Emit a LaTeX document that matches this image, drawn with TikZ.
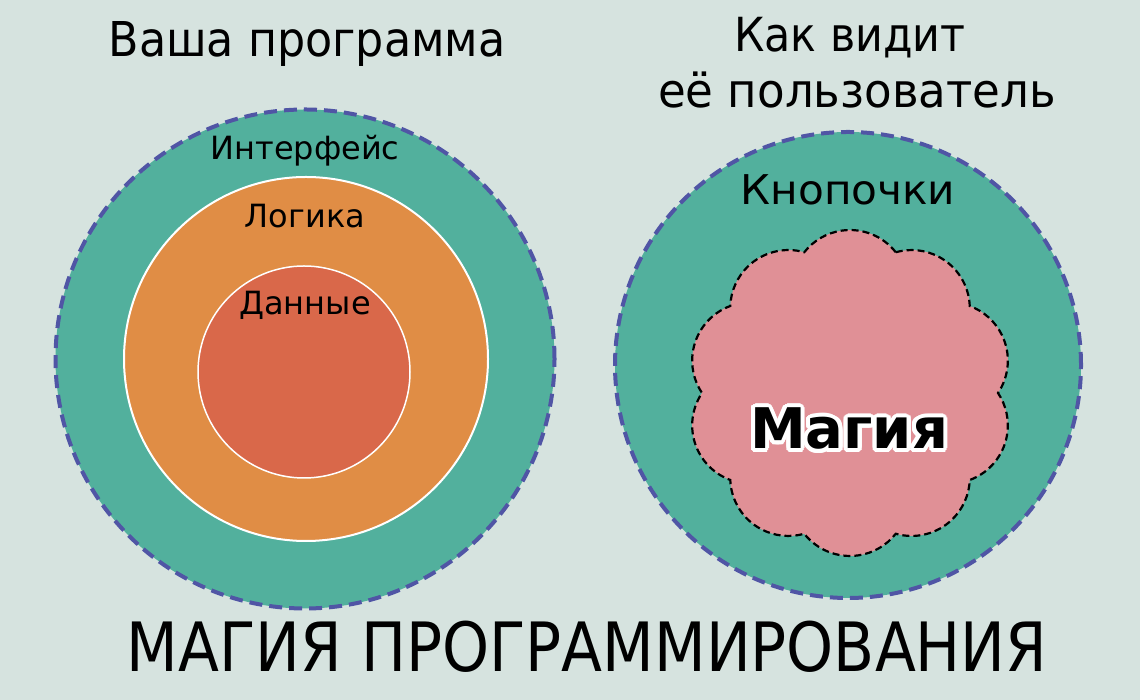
\documentclass[tikz,border=0pt]{standalone}
\usepackage{fontspec}
\setmainfont{DejaVu Sans}
\definecolor{bgc}{RGB}{214,227,223}
\definecolor{grn}{RGB}{82,176,157}
\definecolor{org}{RGB}{224,141,69}
\definecolor{rdc}{RGB}{217,104,74}
\definecolor{pnk}{RGB}{224,144,150}
\definecolor{rim}{RGB}{80,85,165}
\tikzset{
  outer/.style={fill=grn, draw=rim, line width=4pt, dash pattern=on 13pt off 7pt},
  inner/.style={draw=white, line width=2pt},
  lbl/.style={anchor=base, inner sep=0pt, text=black},
}
\begin{document}
\begin{tikzpicture}[x=1pt,y=1pt]
\useasboundingbox (0,0) rectangle (1140,700);
\fill[bgc] (0,0) rectangle (1140,700);
% left
\draw[outer] (305,341) circle[radius=249.5pt];
\filldraw[inner, fill=org] (306,341) circle[radius=182pt];
\filldraw[inner, fill=rdc, line width=1.5pt] (304,328) circle[radius=106pt];
% right
\draw[outer] (848,335) circle[radius=233pt];
\coordinate (F) at (850,307);
\filldraw[fill=pnk, draw=black, line width=2.2pt, dash pattern=on 7pt off 4pt]
  ([shift={(72:148pt)}]F)
  arc[start angle=38.2, delta angle=103.6, radius=58.2pt]
  arc[start angle=74.2, delta angle=103.6, radius=58.2pt]
  arc[start angle=110.2, delta angle=103.6, radius=58.2pt]
  arc[start angle=146.2, delta angle=103.6, radius=58.2pt]
  arc[start angle=182.2, delta angle=103.6, radius=58.2pt]
  arc[start angle=218.2, delta angle=103.6, radius=58.2pt]
  arc[start angle=254.2, delta angle=103.6, radius=58.2pt]
  arc[start angle=290.2, delta angle=103.6, radius=58.2pt]
  arc[start angle=326.2, delta angle=103.6, radius=58.2pt]
  arc[start angle=362.2, delta angle=103.6, radius=58.2pt] -- cycle;
% texts
\node[lbl, font=\fontsize{48}{48}\selectfont] (t1) at (307,643) {\scalebox{0.925}[1]{Ваша программа}};
\node[lbl, font=\fontsize{47}{47}\selectfont] (t2) at (850,648) {\scalebox{0.91}[1]{Как видит}};
\node[lbl, font=\fontsize{47}{47}\selectfont] (t3) at (857,592) {\scalebox{0.96}[1]{её пользователь}};
\node[lbl, font=\fontsize{32}{32}\selectfont] (l1) at (305,540) {Интерфейс};
\node[lbl, font=\fontsize{32}{32}\selectfont] (l2) at (305,472) {Логика};
\node[lbl, font=\fontsize{32}{32}\selectfont] (l3) at (305,385) {Данные};
\node[lbl, font=\fontsize{41}{41}\selectfont] (k) at (848,495) {\scalebox{1.03}[1]{Кнопочки}};
\foreach \a in {0,15,...,345}
  \node[lbl, text=white, font=\bfseries\fontsize{56}{56}\selectfont, shift={(\a:4pt)}] at (849,251) {Магия};
\node[lbl, font=\bfseries\fontsize{56}{56}\selectfont] (m) at (849,251) {Магия};
\node[lbl, font=\fontsize{68}{68}\selectfont] (b) at (587,28) {\scalebox{0.88}[1]{МАГИЯ ПРОГРАММИРОВАНИЯ}};
\end{tikzpicture}
\end{document}
